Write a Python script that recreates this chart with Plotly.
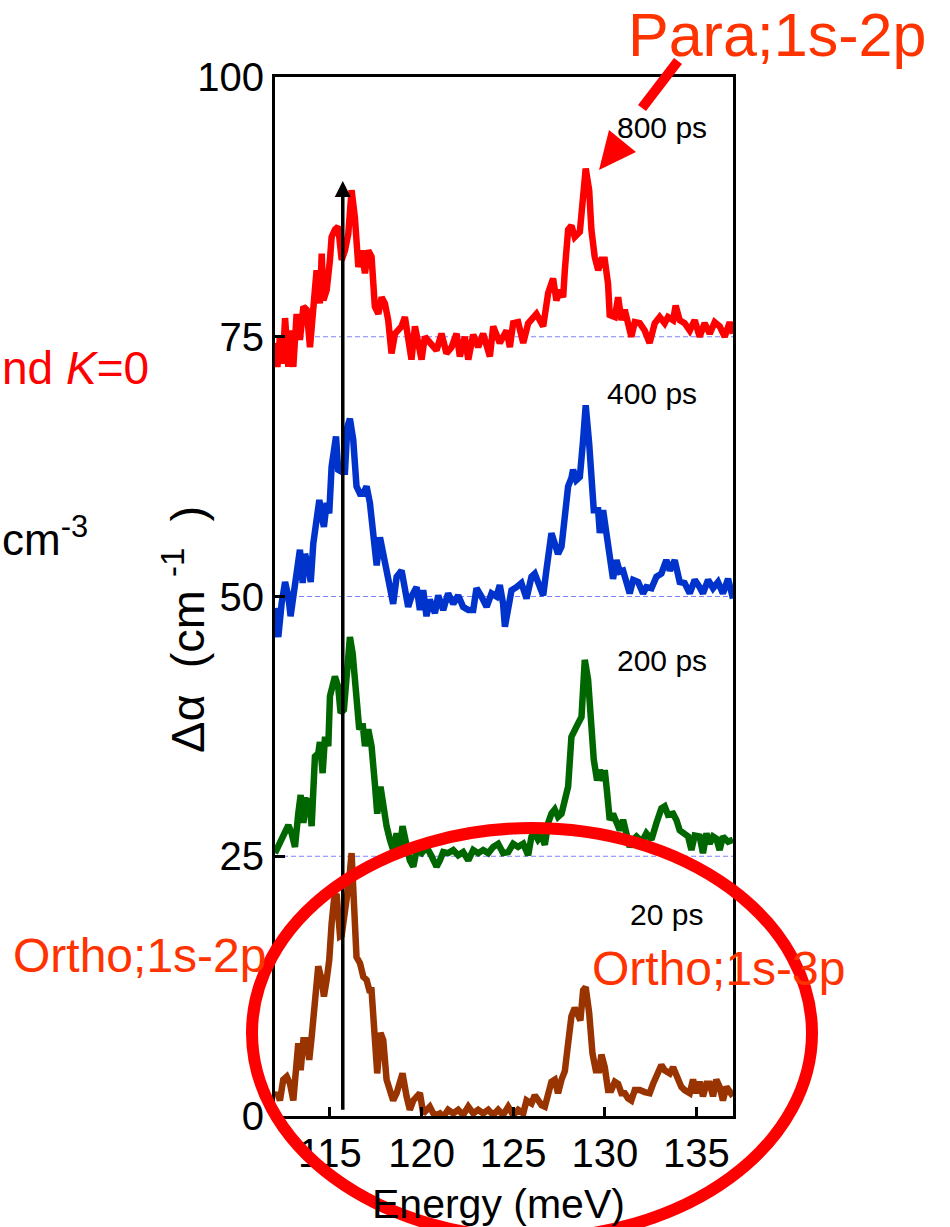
import numpy as np
import plotly.graph_objects as go

# ---- measured spectra (energy in meV, delta-alpha in cm^-1 relative to each trace baseline) ----
e_800 = [112.00, 112.13, 112.27, 112.42, 112.55, 112.73, 112.85, 113.00, 113.18, 113.36, 113.55, 113.73,
         113.91, 114.09, 114.27, 114.45, 114.55, 114.64, 114.82, 115.00, 115.09, 115.27, 115.45, 115.64,
         115.82, 116.00, 116.18, 116.36, 116.55, 116.73, 116.91, 117.09, 117.27, 117.45, 117.64, 117.82,
         118.00, 118.18, 118.36, 118.55, 118.91, 119.09, 119.27, 119.45, 119.64, 119.82, 120.00, 120.18,
         120.45, 120.82, 121.09, 121.36, 121.64, 121.91, 122.09, 122.36, 122.55, 122.82, 123.09, 123.36,
         123.73, 123.91, 124.27, 124.64, 124.82, 125.00, 125.27, 125.55, 125.82, 126.27, 126.64, 126.91,
         127.18, 127.36, 127.55, 127.73, 127.82, 128.00, 128.18, 128.36, 128.64, 128.82, 128.96, 129.15,
         129.27, 129.45, 129.64, 129.82, 130.00, 130.18, 130.27, 130.55, 130.73, 130.91, 131.09, 131.27,
         131.45, 131.64, 131.91, 132.18, 132.45, 132.73, 133.00, 133.27, 133.45, 133.73, 133.87, 134.09,
         134.36, 134.64, 134.91, 135.18, 135.45, 135.73, 136.00, 136.27, 136.55, 136.82, 137.00]
d_800 = [-0.6, -2.9, 0.0, -2.6, 1.8, -2.9, 0.6, -2.9, 2.2, -0.3, 2.9, 2.6,
         -1.0, 3.8, 6.4, 3.2, 8.0, 3.5, 4.5, 7.4, 9.6, 10.3, 10.6, 7.4,
         8.3, 9.9, 14.1, 11.5, 6.7, 8.3, 6.1, 8.3, 7.7, 2.9, 2.2, 3.8,
         3.2, 1.6, -1.6, 0.3, 1.0, 1.9, 0.0, -2.2, 1.0, -0.6, -2.2, 0.0,
         -0.6, -1.3, 0.3, -1.6, -1.0, 0.3, -1.9, 0.0, -2.2, 0.2, -1.0, 0.3,
         -1.9, 1.0, -0.6, 0.6, -1.0, 1.3, 1.4, -0.6, 1.3, 2.2, 1.0, 4.2,
         5.6, 3.5, 4.5, 3.8, 6.4, 10.3, 10.7, 9.6, 10.1, 14.8, 16.2, 14.1,
         10.3, 7.7, 6.4, 7.4, 7.4, 5.1, 2.1, 1.9, 3.8, 1.6, 2.6, 1.3,
         0.0, 1.4, 1.3, 0.6, -0.6, 1.3, 1.9, 1.3, 1.9, 1.6, 3.0, 1.6,
         1.3, 0.6, 1.6, 0.0, 1.3, 0.3, 1.4, 1.0, 0.0, 1.4, 0.3]

e_400 = [112.00, 112.18, 112.36, 112.55, 112.73, 112.85, 113.00, 113.18, 113.36, 113.51, 113.64, 113.82,
         113.95, 114.09, 114.27, 114.42, 114.55, 114.67, 114.82, 114.96, 115.09, 115.22, 115.33, 115.45,
         115.64, 115.82, 115.95, 116.09, 116.27, 116.45, 116.64, 116.82, 117.00, 117.18, 117.36, 117.55,
         117.73, 117.91, 118.09, 118.27, 118.45, 118.64, 118.91, 119.09, 119.27, 119.45, 119.73, 119.91,
         120.09, 120.27, 120.45, 120.73, 120.91, 121.18, 121.45, 121.73, 122.00, 122.27, 122.55, 122.82,
         123.00, 123.27, 123.55, 123.82, 124.09, 124.27, 124.45, 124.55, 124.73, 124.91, 125.18, 125.45,
         125.73, 126.00, 126.18, 126.45, 126.64, 126.82, 127.09, 127.27, 127.45, 127.64, 127.82, 128.00,
         128.18, 128.27, 128.45, 128.64, 128.82, 128.96, 129.15, 129.27, 129.40, 129.64, 129.73, 129.91,
         130.09, 130.27, 130.45, 130.64, 130.82, 131.00, 131.18, 131.36, 131.55, 131.82, 132.09, 132.27,
         132.55, 132.82, 133.09, 133.36, 133.55, 133.82, 134.09, 134.36, 134.64, 134.91, 135.18, 135.36,
         135.64, 135.91, 136.18, 136.45, 136.73, 137.00]
d_400 = [-1.1, -3.9, -0.7, 1.4, 0.0, -1.9, 0.0, 2.9, 4.5, 1.3, 4.1, 2.9,
         1.4, 5.1, 7.0, 9.3, 7.7, 6.7, 9.0, 8.0, 12.5, 13.8, 15.4, 12.2,
         12.0, 12.0, 16.3, 17.1, 15.1, 10.6, 9.9, 9.9, 10.6, 9.0, 6.4, 3.0,
         5.7, 3.8, 1.9, 0.9, -0.7, 1.9, 2.5, 0.9, -1.0, 0.0, 0.9, -1.3,
         0.6, -1.9, -0.3, -1.6, 0.1, -1.3, 0.3, -0.7, 0.1, -1.0, -1.3, -1.3,
         0.8, 0.0, -1.0, 0.3, 0.0, 1.1, -0.7, -2.9, -1.3, 0.6, 0.9, 1.3,
         -0.2, 1.9, 2.2, 0.9, 0.1, 2.6, 6.1, 5.1, 4.1, 4.8, 7.4, 10.6,
         11.4, 12.2, 11.2, 11.5, 15.1, 18.4, 14.7, 11.9, 8.3, 8.3, 6.1, 8.3,
         6.1, 3.2, 1.7, 3.5, 2.4, 2.5, 1.6, 0.3, 1.6, 1.4, 0.3, 0.9,
         0.8, 1.9, 2.2, 3.5, 2.5, 3.5, 1.4, 1.3, 0.3, 1.6, 0.9, 0.3,
         1.6, 0.8, 1.4, 0.3, 1.7, -0.2]

e_200 = [112.00, 112.18, 112.36, 112.55, 112.73, 112.91, 113.09, 113.27, 113.40, 113.55, 113.69, 113.87,
         114.00, 114.18, 114.36, 114.45, 114.60, 114.73, 114.91, 115.00, 115.15, 115.27, 115.45, 115.58,
         115.76, 115.95, 116.09, 116.24, 116.36, 116.49, 116.60, 116.78, 116.91, 117.09, 117.27, 117.45,
         117.58, 117.76, 117.95, 118.09, 118.27, 118.45, 118.64, 118.82, 118.96, 119.18, 119.36, 119.55,
         119.73, 120.00, 120.27, 120.55, 120.82, 121.00, 121.18, 121.45, 121.73, 122.00, 122.27, 122.55,
         122.82, 123.09, 123.36, 123.64, 123.91, 124.18, 124.45, 124.73, 125.00, 125.27, 125.55, 125.82,
         126.00, 126.18, 126.36, 126.55, 126.73, 126.91, 127.09, 127.27, 127.45, 127.64, 127.82, 128.00,
         128.18, 128.36, 128.55, 128.73, 128.91, 129.09, 129.22, 129.40, 129.58, 129.73, 129.91, 130.00,
         130.13, 130.27, 130.45, 130.64, 130.82, 131.00, 131.18, 131.36, 131.55, 131.73, 131.91, 132.09,
         132.27, 132.55, 132.82, 133.09, 133.27, 133.45, 133.73, 133.91, 134.09, 134.27, 134.55, 134.73,
         134.91, 135.18, 135.36, 135.55, 135.73, 135.91, 136.09, 136.27, 136.45, 136.73, 137.00]
d_200 = [0.3, 0.9, 1.6, 2.2, 3.0, 2.2, 0.9, 4.1, 5.9, 3.2, 5.4, 5.3,
         2.9, 9.6, 9.9, 11.0, 8.0, 11.5, 10.6, 15.4, 16.3, 17.3, 16.3, 13.8,
         14.1, 17.6, 21.1, 19.5, 16.6, 13.1, 12.2, 12.8, 10.6, 12.2, 10.6, 7.0,
         4.1, 6.7, 4.1, 2.9, 1.6, 0.6, 2.2, 0.6, 2.9, 0.9, -0.4, -1.0,
         0.6, 0.3, 0.9, 0.0, -1.0, -0.4, 0.4, 0.3, 0.6, 0.1, 0.4, -0.4,
         0.6, 0.3, 0.6, 0.3, 0.9, 1.2, 0.3, 0.4, 1.2, 0.9, 1.2, 0.1,
         1.9, 2.2, 1.6, 2.0, 1.1, 3.2, 4.1, 4.5, 3.8, 4.1, 5.7, 6.7,
         11.5, 12.0, 12.8, 13.4, 18.9, 17.0, 13.4, 9.3, 7.3, 8.3, 7.3, 8.3,
         6.1, 3.5, 4.1, 3.2, 2.5, 3.5, 2.2, 0.9, 1.6, 1.9, 1.6, 1.6,
         2.2, 1.6, 3.2, 4.6, 4.8, 4.0, 4.1, 3.5, 2.5, 2.2, 1.9, 0.6,
         2.0, 1.9, 0.3, 2.2, 1.2, 1.9, 1.7, 0.6, 1.9, 1.4, 1.6]

e_20 = [112.00, 112.13, 112.27, 112.45, 112.64, 112.82, 113.00, 113.15, 113.27, 113.40, 113.55, 113.73,
        113.87, 114.00, 114.18, 114.36, 114.55, 114.67, 114.82, 114.96, 115.09, 115.22, 115.36, 115.55,
        115.64, 115.76, 115.91, 116.05, 116.18, 116.31, 116.45, 116.64, 116.82, 117.00, 117.15, 117.27,
        117.45, 117.58, 117.76, 117.91, 118.09, 118.27, 118.45, 118.64, 118.82, 118.96, 119.18, 119.36,
        119.55, 119.73, 119.91, 120.09, 120.27, 120.45, 120.64, 120.82, 121.00, 121.18, 121.45, 121.73,
        122.00, 122.27, 122.55, 122.82, 123.09, 123.36, 123.64, 123.91, 124.18, 124.45, 124.73, 125.00,
        125.27, 125.55, 125.73, 126.00, 126.18, 126.36, 126.55, 126.73, 126.91, 127.09, 127.27, 127.45,
        127.64, 127.82, 128.00, 128.18, 128.36, 128.55, 128.67, 128.82, 128.96, 129.15, 129.33, 129.51,
        129.69, 129.82, 130.00, 130.18, 130.36, 130.55, 130.73, 130.91, 131.09, 131.27, 131.45, 131.64,
        131.91, 132.18, 132.45, 132.64, 132.82, 133.09, 133.27, 133.55, 133.73, 133.91, 134.18, 134.36,
        134.64, 134.82, 135.00, 135.18, 135.36, 135.55, 135.73, 135.91, 136.09, 136.27, 136.45, 136.64,
        136.82, 137.00]
d_20 = [1.9, 2.2, 1.5, 3.5, 3.8, 3.1, 1.5, 5.7, 7.0, 4.4, 7.3, 7.3,
        5.4, 7.6, 10.8, 14.4, 13.1, 11.5, 13.1, 15.0, 18.5, 20.8, 21.4, 17.3,
        17.4, 18.9, 20.1, 22.7, 25.3, 19.5, 15.3, 14.7, 13.4, 13.1, 12.1, 12.1,
        7.6, 4.1, 8.0, 7.3, 3.5, 2.2, 1.5, 2.2, 3.5, 4.1, 1.9, 0.6,
        1.5, 1.9, 2.2, 0.25, 0.6, 0.9, 0.25, 0.1, 0.25, -0.1, 0.6, 0.25,
        0.6, 0.1, 0.9, 0.25, 0.6, 0.25, 0.6, 0.1, 0.6, 0.1, 0.9, 0.1,
        0.6, 0.25, 1.5, 1.2, 2.0, 1.5, 1.05, 0.9, 2.2, 3.3, 3.5, 2.2,
        3.5, 4.3, 7.0, 9.6, 10.4, 9.6, 9.2, 12.1, 12.4, 9.9, 6.0, 4.4,
        4.4, 5.9, 4.7, 2.5, 2.5, 3.3, 3.1, 2.2, 2.2, 1.7, 1.5, 2.5,
        2.5, 2.3, 2.2, 3.1, 3.8, 4.9, 4.4, 4.1, 4.7, 3.8, 2.8, 2.5,
        2.2, 3.5, 2.2, 3.3, 1.9, 3.1, 3.1, 1.9, 3.5, 2.8, 1.5, 2.8,
        2.2, 1.9]

delay_labels = ["800 ps", "400 ps", "200 ps", "20 ps"]
baselines = [75, 50, 25, 0]
colors = ["#ff0000", "#0033cc", "#006600", "#993300"]
energies = [e_800, e_400, e_200, e_20]
spectra = [d_800, d_400, d_200, d_20]

x_ticks = [115, 120, 125, 130, 135]
y_ticks = [0, 25, 50, 75, 100]
x_range = [112, 137]
y_range = [0, 100]
marker_energy = 115.7      # vertical guide at the ortho 1s-2p position
marker_top = 90.0

# ---- figure geometry (pixels) ----
W, H = 950, 1227
L, R, T, B = 275, 217, 77, 111
PW, PH = W - L - R, H - T - B


def px(xp):
    return (xp - L) / PW


def py(yp):
    return (H - B - yp) / PH


fig = go.Figure()

# dashed zero lines for each offset trace
for base in baselines[:3]:
    fig.add_shape(type="line", xref="x", yref="y", x0=x_range[0], x1=x_range[1], y0=base, y1=base,
                  line=dict(color="#8080ff", width=1, dash="5px,3px"), layer="below")

for lab, e, d, base, c in zip(delay_labels, energies, spectra, baselines, colors):
    fig.add_trace(go.Scatter(x=e, y=np.array(d) + base, mode="lines", name=lab,
                             line=dict(color=c, width=6.5), showlegend=False))

# vertical black arrow at the 1s-2p line
head_h, head_w = 1.55, 0.44
fig.add_shape(type="line", xref="x", yref="y", x0=marker_energy, x1=marker_energy,
              y0=0.6, y1=marker_top - head_h, line=dict(color="black", width=3.5))
fig.add_shape(type="path", xref="x", yref="y",
              path=f"M {marker_energy - head_w},{marker_top - head_h} L {marker_energy + head_w},{marker_top - head_h} "
                   f"L {marker_energy},{marker_top} Z",
              fillcolor="black", line=dict(width=0))

# red arrow pointing to the para 1s-2p peak
fig.add_shape(type="line", xref="paper", yref="paper", x0=px(678), y0=py(61), x1=px(642), y1=py(108),
              line=dict(color="#ff0000", width=10))
fig.add_shape(type="path", xref="paper", yref="paper",
              path=f"M {px(599)},{py(170)} L {px(609)},{py(130)} L {px(636)},{py(152)} Z",
              fillcolor="#ff0000", line=dict(width=0))

# big red ellipse around the 20 ps spectrum
fig.add_shape(type="circle", xref="paper", yref="paper",
              x0=px(252), x1=px(812), y0=py(1238), y1=py(828),
              line=dict(color="#ff0000", width=12), fillcolor="rgba(0,0,0,0)")

annos = []
# delay labels
for lab, (cx, cy) in zip(delay_labels, [(662, 127), (652, 393), (662, 661), (666, 914)]):
    annos.append(dict(text=lab, x=px(cx), y=py(cy), xanchor="center", yanchor="middle",
                      font=dict(size=30, color="black", family="Liberation Sans, Arial")))

orange = "#ff3300"
sans = "Liberation Sans, Arial"
nb = "\u00a0"
annos += [
    dict(text="Para;1s-2p", x=px(628), y=py(35), xanchor="left", yanchor="middle",
         borderpad=0, borderwidth=0, font=dict(size=61, color=orange, family=sans)),
    dict(text="Ortho;1s-2p", x=px(11), y=py(955), xanchor="left", yanchor="middle",
         font=dict(size=48, color=orange, family=sans)),
    dict(text="Ortho;1s-3p", x=px(590), y=py(968), xanchor="left", yanchor="middle",
         font=dict(size=48, color=orange, family=sans)),
    dict(text="nd <i>K</i>=0", x=px(0), y=py(368), xanchor="left", yanchor="middle",
         font=dict(size=46, color="#ff0000", family=sans)),
    dict(text="cm<sup>-3</sup>", x=px(0), y=py(536), xanchor="left", yanchor="middle",
         font=dict(size=44, color="black", family=sans)),
    dict(text=f"Δα{nb}{nb}(cm{nb}<sup>-1</sup>{nb}{nb})", x=px(184), y=py(630),
         xanchor="center", yanchor="middle", textangle=-90,
         font=dict(size=47, color="black", family=sans)),
    dict(text="Energy (meV)", x=px(498), y=py(1204), xanchor="center", yanchor="middle",
         font=dict(size=41, color="black", family=sans)),
]
for a in annos:
    a.update(xref="paper", yref="paper", showarrow=False)

axis_common = dict(showgrid=False, zeroline=False, showline=True, linecolor="black", linewidth=3,
                   mirror=True, ticks="inside", tickcolor="black", tickwidth=2.5,
                   tickfont=dict(size=40, color="black", family=sans))

fig.update_layout(
    width=W, height=H, margin=dict(l=L, r=R, t=T, b=B),
    paper_bgcolor="white", plot_bgcolor="white",
    xaxis=dict(range=x_range, tickvals=x_ticks, ticklen=9, **axis_common),
    yaxis=dict(range=y_range, tickvals=y_ticks, ticklen=10, **axis_common),
    annotations=annos,
    showlegend=False,
)

fig.write_html("out.html")
